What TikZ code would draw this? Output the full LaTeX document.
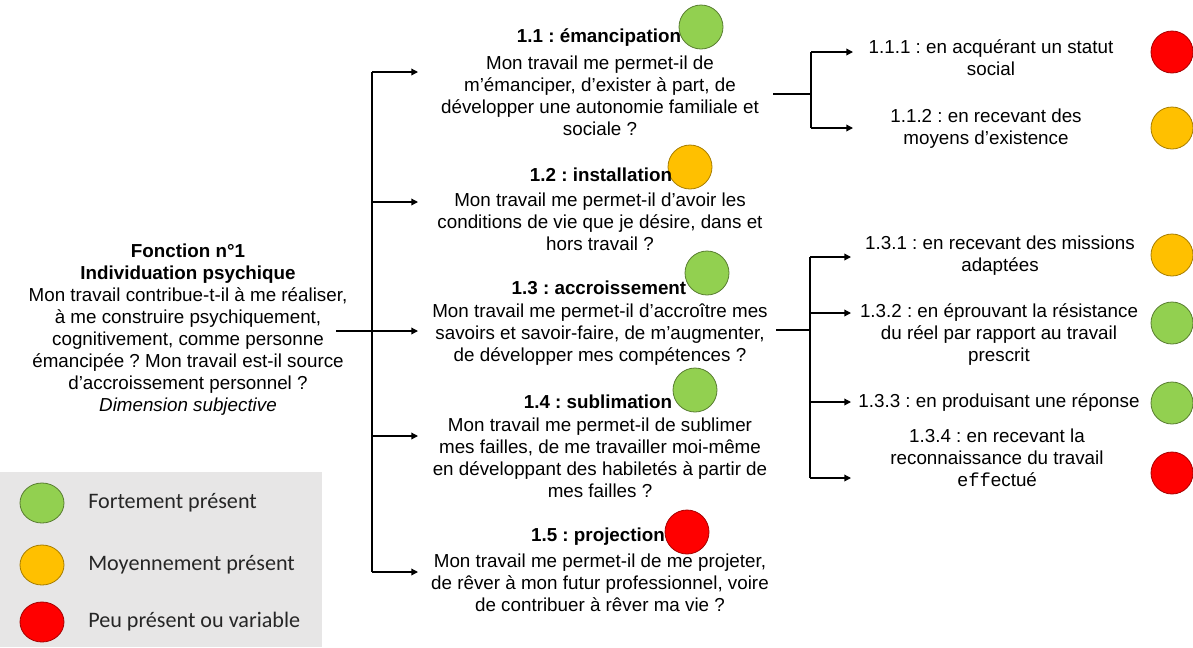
\documentclass[tikz,border=0pt]{standalone}
\usepackage{fontspec}
\setmainfont{Liberation Sans}
\newfontfamily\legendfont{Carlito}
\newfontfamily\codefont{Liberation Mono}
\usetikzlibrary{arrows.meta,shapes.geometric}
\frenchspacing

\definecolor{okcol}{HTML}{92D050}
\definecolor{midcol}{HTML}{FFC000}
\definecolor{lowcol}{HTML}{FF0000}
\definecolor{legendbg}{HTML}{E7E6E6}
\definecolor{legendtxt}{HTML}{262626}

\tikzset{
  txt/.style={align=center, inner sep=0pt, font=\fontsize{14.1}{16.5}\selectfont},
  ttl/.style={align=center, inner sep=0pt, font=\fontsize{14.1}{16.5}\selectfont\bfseries},
  legtxt/.style={anchor=west, inner sep=0pt, text=legendtxt, font=\legendfont\fontsize{16.6}{19}\selectfont},
  link/.style={line width=1pt},
  arr/.style={link, -{Triangle[length=5pt,width=5pt]}},
  dot/.style={circle, inner sep=0pt, line width=0.6pt, minimum size=33pt},
  sdot/.style={dot, minimum size=31.5pt},
  ldot/.style={ellipse, inner sep=0pt, line width=0.6pt, minimum width=33pt, minimum height=30pt},
  high/.style={fill=okcol, draw=okcol!60!black},
  mid/.style={fill=midcol, draw=midcol!65!black},
  low/.style={fill=lowcol, draw=lowcol!65!black},
}

\begin{document}
\begin{tikzpicture}[x=0.75pt, y=-0.75pt]
\path[use as bounding box] (0,0) rectangle (1193,647);

% legend panel
\fill[legendbg] (0,472) rectangle (322,647);
\node[ldot, high] (lg1) at (42,503) {};
\node[ldot, mid]  (lg2) at (42,565) {};
\node[ldot, low]  (lg3) at (42,622) {};
\node[legtxt] (lt1) at (88,503) {Fortement présent};
\node[legtxt] (lt2) at (88,565) {Moyennement présent};
\node[legtxt] (lt3) at (88,622) {Peu présent ou variable};

% rating dots of the five sub-functions
\node[dot, high] (c11) at (701,27) {};
\node[dot, mid]  (c12) at (690,167) {};
\node[dot, high] (c13) at (707,273) {};
\node[dot, high] (c14) at (695,390) {};
\node[dot, low]  (c15) at (687,532) {};

% rating dots of the detailed items
\node[sdot, low]  (c111) at (1172,52) {};
\node[sdot, mid]  (c112) at (1172,128) {};
\node[sdot, mid]  (c131) at (1172,255) {};
\node[sdot, high] (c132) at (1172,323) {};
\node[sdot, high] (c133) at (1172,403) {};
\node[sdot, low]  (c134) at (1172,473) {};

% main function
\node[txt] (f1) at (188,330) {\textbf{Fonction n°1}\\\textbf{Individuation psychique}\\Mon travail contribue-t-il à me réaliser,\\à me construire psychiquement,\\cognitivement, comme personne\\émancipée ? Mon travail est-il source\\d'accroissement personnel ?\\\textit{Dimension subjective}};

% sub-functions
\node[ttl] (t11) at (599,38) {1.1 : émancipation};
\node[txt] (b11) at (600,95.5) {Mon travail me permet-il de\\m’émanciper, d’exister à part, de\\développer une autonomie familiale et\\sociale ?};
\node[ttl] (t12) at (601,175) {1.2 : installation};
\node[txt] (b12) at (600,222) {Mon travail me permet-il d’avoir les\\conditions de vie que je désire, dans et\\hors travail ?};
\node[ttl] (t13) at (599,288) {1.3 : accroissement};
\node[txt] (b13) at (600,335) {Mon travail me permet-il d’accroître mes\\savoirs et savoir-faire, de m’augmenter,\\de développer mes compétences ?};
\node[ttl] (t14) at (598,402) {1.4 : sublimation};
\node[txt] (b14) at (600,458) {Mon travail me permet-il de sublimer\\mes failles, de me travailler moi-même\\en développant des habiletés à partir de\\mes failles ?};
\node[ttl] (t15) at (598,537) {1.5 : projection};
\node[txt] (b15) at (600,582.5) {Mon travail me permet-il de me projeter,\\de rêver à mon futur professionnel, voire\\de contribuer à rêver ma vie ?};

% detailed items
\node[txt] (d111) at (991,57.5) {1.1.1 : en acquérant un statut\\social};
\node[txt] (d112) at (986,128.5) {1.1.2 : en recevant des\\moyens d’existence};
\node[txt] (d131) at (1000,256) {1.3.1 : en recevant des missions\\adaptées};
\node[txt] (d132) at (999,334.5) {1.3.2 : en éprouvant la résistance\\du réel par rapport au travail\\prescrit};
\node[txt] (d133) at (999,403) {1.3.3 : en produisant une réponse};
\node[txt] (d134) at (997,457.5) {1.3.4 : en recevant la\\reconnaissance du travail\\{\codefont eff}ectué};

% main bracket
\coordinate (fo) at (336,331);
\coordinate (a1) at (418,72);
\coordinate (a2) at (418,202);
\coordinate (a3) at (418,331);
\coordinate (a4) at (418,436);
\coordinate (a5) at (418,572);
\coordinate (s1) at (372,72);
\coordinate (s2) at (372,202);
\coordinate (s4) at (372,436);
\coordinate (s5) at (372,572);
\draw[link] (s1) -- (s5);
\draw[arr] (fo) -- (a3);
\draw[arr] (s1) -- (a1);
\draw[arr] (s2) -- (a2);
\draw[arr] (s4) -- (a4);
\draw[arr] (s5) -- (a5);

% bracket of 1.1
\coordinate (p11) at (773,94);
\coordinate (q11) at (811,94);
\coordinate (q111) at (811,52);
\coordinate (q112) at (811,128);
\coordinate (e111) at (853,52);
\coordinate (e112) at (853,128);
\draw[link] (p11) -- (q11);
\draw[link] (q111) -- (q112);
\draw[arr] (q111) -- (e111);
\draw[arr] (q112) -- (e112);

% bracket of 1.3
\coordinate (p13) at (776,330);
\coordinate (q13) at (810,330);
\coordinate (q131) at (810,257);
\coordinate (q132) at (810,313);
\coordinate (q133) at (810,402);
\coordinate (q134) at (810,478);
\coordinate (e131) at (851,257);
\coordinate (e132) at (851,313);
\coordinate (e133) at (851,402);
\coordinate (e134) at (851,478);
\draw[link] (p13) -- (q13);
\draw[link] (q131) -- (q134);
\draw[arr] (q131) -- (e131);
\draw[arr] (q132) -- (e132);
\draw[arr] (q133) -- (e133);
\draw[arr] (q134) -- (e134);
\end{tikzpicture}
\end{document}
